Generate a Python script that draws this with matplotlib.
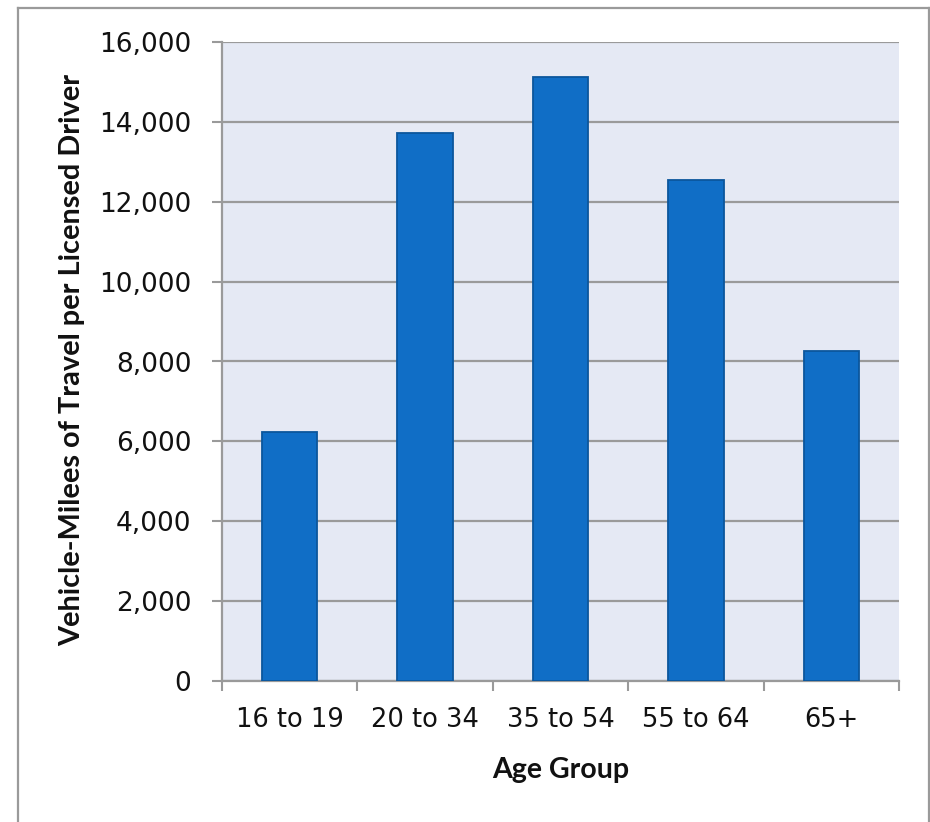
import matplotlib
matplotlib.use("Agg")
import matplotlib.pyplot as plt
from matplotlib.lines import Line2D
from matplotlib.ticker import FuncFormatter, FixedLocator
import numpy as np

age_groups = ["16 to 19", "20 to 34", "35 to 54", "55 to 64", "65+"]
miles_per_driver = [6240, 13730, 15130, 12540, 8260]
y_ticks = [0, 2000, 4000, 6000, 8000, 10000, 12000, 14000, 16000]

W, H = 930, 822
fig = plt.figure(figsize=(W / 100, H / 100), dpi=100)
plt.rcParams["font.family"] = ["DejaVu Sans"]

# plot area in pixel terms
left, right, top, bottom = 222, 899, 42, 681
ax = fig.add_axes([left / W, 1 - bottom / H, (right - left) / W, (bottom - top) / H])
ax.set_facecolor("#e5e9f4")

grid_color = "#9a9a9a"
x = np.arange(len(age_groups))
ax.bar(x, miles_per_driver, width=0.41, color="#106ec6",
       edgecolor="#0b569c", linewidth=1.3, zorder=3)

ax.set_xlim(-0.5, len(age_groups) - 0.5)
ax.set_ylim(0, 16000)
ax.set_yticks(y_ticks)
ax.yaxis.set_major_formatter(FuncFormatter(lambda v, p: f"{int(v):,}"))
ax.grid(axis="y", color=grid_color, linewidth=1.6, zorder=1)
ax.set_axisbelow(True)

ax.set_xticks(x)
ax.set_xticklabels(age_groups)
ax.xaxis.set_minor_locator(FixedLocator(np.arange(-0.5, len(age_groups), 1.0)))
ax.tick_params(axis="x", which="major", length=0, pad=19, labelsize=18.5, labelcolor="#111111")
ax.tick_params(axis="x", which="minor", length=7.5, width=1.5, color=grid_color, direction="out")
ax.tick_params(axis="y", which="major", length=7, width=1.5, color=grid_color,
               pad=15, labelsize=19, labelcolor="#111111")

for side in ("top", "right"):
    ax.spines[side].set_visible(False)
for side in ("left", "bottom"):
    ax.spines[side].set_color(grid_color)
    ax.spines[side].set_linewidth(1.6)

title_font = ["Lato", "DejaVu Sans"]
fig.text((left + right) / 2 / W, 1 - 770 / H, "Age Group", ha="center", va="center",
         fontsize=20.5, fontweight="bold", color="#111111", family=title_font)
fig.text(72 / W, 1 - 360 / H, "Vehicle-Milees of Travel per Licensed Driver",
         ha="center", va="center", rotation=90, fontsize=20.8, fontweight="bold",
         color="#111111", family=title_font)

# outer frame (open at the bottom)
fx0, fx1, fy0 = 17.5 / W, 928.5 / W, 1 - 8 / H
frame_kw = dict(color="#9a9a9a", linewidth=1.6, transform=fig.transFigure)
fig.add_artist(Line2D([fx0, fx0], [0, fy0], **frame_kw))
fig.add_artist(Line2D([fx1, fx1], [0, fy0], **frame_kw))
fig.add_artist(Line2D([fx0, fx1], [fy0, fy0], **frame_kw))

fig.savefig("out.png", dpi=100, facecolor="white")
